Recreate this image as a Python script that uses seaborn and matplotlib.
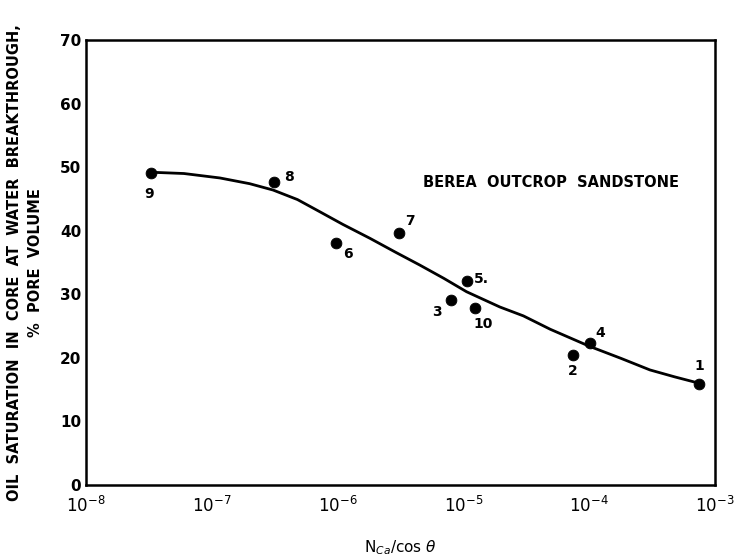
import numpy as np
import pandas as pd
import matplotlib
matplotlib.use("Agg")
import matplotlib.pyplot as plt
import seaborn as sns

# ------------------------------------------------------------
# data (Berea outcrop sandstone)
# ------------------------------------------------------------
core_id = ["1", "2", "3", "4", "5.", "6", "7", "8", "9", "10"]
n_ca = [7.5e-4, 7.4e-5, 8.0e-6, 1.01e-4, 1.06e-5, 9.7e-7, 3.1e-6, 3.1e-7, 3.3e-8, 1.24e-5]
oil_sat = [15.9, 20.4, 29.1, 22.3, 32.1, 38.1, 39.6, 47.6, 49.1, 27.8]

# label offsets in pixels (dx, dy) from each point
label_dx = [0, 0, -14, 11, 15, 12, 11, 15, -2, 8]
label_dy = [18, -16, -12, 10, 2, -11, 12, 5, -21, -16]

# fitted curve
curve_x = [3.3e-8, 6.0e-8, 1.16e-7, 2.0e-7, 3.07e-7, 4.8e-7, 7.2e-7, 1.1e-6,
           1.81e-6, 2.9e-6, 4.5e-6, 7.0e-6, 1.06e-5, 1.95e-5, 3.0e-5,
           4.9e-5, 1.01e-4, 1.8e-4, 3.04e-4, 4.8e-4, 7.5e-4]
curve_y = [49.2, 49.0, 48.3, 47.4, 46.4, 44.9, 43.0, 41.0,
           38.8, 36.6, 34.6, 32.5, 30.4, 28.0, 26.6,
           24.5, 21.8, 19.9, 18.1, 17.0, 16.0]

x_ticks = [1e-8, 1e-7, 1e-6, 1e-5, 1e-4, 1e-3]
x_ticklabels = [r"$10^{-8}$", r"$10^{-7}$", r"$10^{-6}$", r"$10^{-5}$", r"$10^{-4}$", r"$10^{-3}$"]
y_ticks = [0, 10, 20, 30, 40, 50, 60, 70]

pts = pd.DataFrame({"id": core_id, "n_ca": n_ca, "sat": oil_sat})
curve = pd.DataFrame({"x": curve_x, "y": curve_y})

sns.set_style("white")
plt.rcParams["font.family"] = ["DejaVu Sans"]
plt.rcParams["text.color"] = "black"
plt.rcParams["axes.labelcolor"] = "black"
plt.rcParams["xtick.color"] = "black"
plt.rcParams["ytick.color"] = "black"

fig = plt.figure(figsize=(7.49, 5.59), dpi=100)
ax = fig.add_axes([0.1148, 0.1324, 0.9546 - 0.1148, 0.9284 - 0.1324])

sns.lineplot(data=curve, x="x", y="y", sort=False, color="black", linewidth=2.0, ax=ax)
sns.scatterplot(data=pts, x="n_ca", y="sat", color="black", s=60, edgecolor="black",
                zorder=3, ax=ax)

for i, lab in enumerate(core_id):
    ax.annotate(lab, (n_ca[i], oil_sat[i]), xytext=(label_dx[i], label_dy[i]),
                textcoords="offset pixels", ha="center", va="center",
                fontsize=10, fontweight="bold")

ax.set_xscale("log")
ax.set_xlim(1e-8, 1e-3)
ax.set_ylim(0, 70)
ax.set_xticks(x_ticks)
ax.set_xticklabels(x_ticklabels)
ax.set_yticks(y_ticks)
ax.minorticks_off()
ax.tick_params(axis="both", direction="in", length=6, width=1.5, labelsize=11)
ax.tick_params(axis="x", pad=8, labelsize=12)
for lbl in ax.get_yticklabels():
    lbl.set_fontweight("bold")

for sp in ax.spines.values():
    sp.set_linewidth(1.8)
    sp.set_color("black")

ax.text(0.535, 0.68, "BEREA  OUTCROP  SANDSTONE", transform=ax.transAxes,
        fontsize=10.5, fontweight="bold", ha="left", va="center")

ax.set_xlabel(r"N$_{Ca}$/cos $\theta$", fontsize=11, labelpad=16)
ax.set_ylabel("OIL  SATURATION  IN  CORE  AT  WATER  BREAKTHROUGH,\n%  PORE  VOLUME",
              fontsize=10.5, fontweight="bold", labelpad=12, linespacing=1.5)

fig.savefig("out.png", dpi=100)
